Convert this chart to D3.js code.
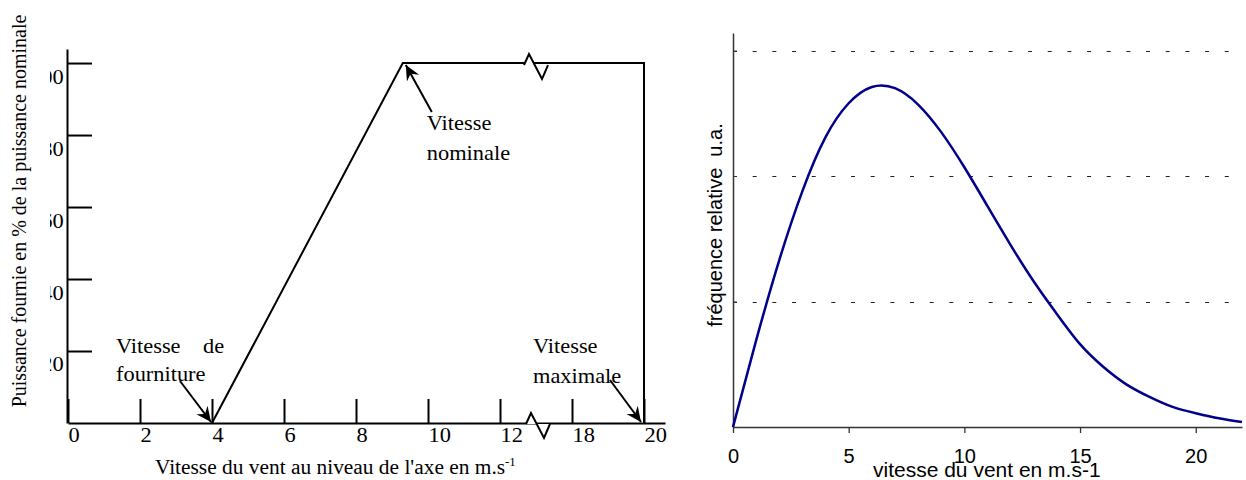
<!DOCTYPE html>
<meta charset="utf-8">
<style>
body { margin: 0; background: #fff; }
.serif text, text.serif { font-family: "Liberation Serif", "Times New Roman", serif; }
.sans text, text.sans { font-family: "Liberation Sans", Arial, sans-serif; }
</style>
<svg width="1246" height="480"></svg>
<script src="https://d3js.org/d3.v7.min.js"></script>
<script>

// ---- left chart : power curve (broken x axis 12 -> 18)
var powerTicksX = [0, 2, 4, 6, 8, 10, 12, 18, 20];
var powerTicksY = [20, 40, 60, 80, 100];
var powerSpeed = [4, 9.3, 20, 20];
var powerPct   = [0, 100, 100, 0];

// ---- right chart : wind speed distribution
var freqSpeed = [0, 1, 2, 3, 4, 5, 6, 7, 8, 9, 10, 11, 12, 13, 14, 15, 16, 17, 18, 19, 20, 21, 22];
var freqValue = [0, 0.69, 1.33, 1.88, 2.31, 2.58, 2.71, 2.70, 2.57, 2.35, 2.07, 1.76, 1.45, 1.16, 0.90, 0.66, 0.48, 0.34, 0.24, 0.16, 0.11, 0.07, 0.04];
var freqTicksX = [0, 5, 10, 15, 20];
var freqGrid = [1, 2, 3];

var svg = d3.select("svg");

svg.append("defs").append("marker")
    .attr("id", "arr")
    .attr("viewBox", "-15 -8 16 16")
    .attr("refX", 0).attr("refY", 0)
    .attr("markerWidth", 16).attr("markerHeight", 16)
    .attr("markerUnits", "userSpaceOnUse")
    .attr("orient", "auto")
  .append("path")
    .attr("d", "M0,0L-15,-7L-10,0L-15,7Z")
    .attr("fill", "#000");

svg.select("defs").append("clipPath").attr("id", "clipL")
  .append("rect").attr("x", 50).attr("y", 0).attr("width", 700).attr("height", 480);

// ================= LEFT =================
var xL = d3.scaleLinear().domain([0, 12, 18, 20, 20.6]).range([68, 500, 572, 644, 665]);
var yL = d3.scaleLinear().domain([0, 103.9]).range([423, 49]);

var left = svg.append("g").attr("class", "serif");

var axX = left.append("g")
    .attr("transform", "translate(0," + yL(0) + ")")
    .call(d3.axisBottom(xL).tickValues(powerTicksX).tickSize(-24).tickSizeOuter(0).tickFormat(d3.format("d")));
axX.select(".domain").attr("stroke", "#000").attr("stroke-width", 2);
axX.selectAll(".tick line").attr("stroke", "#000").attr("stroke-width", 2);
axX.selectAll(".tick text")
    .attr("text-anchor", "start")
    .attr("x", 0).attr("y", 19).attr("dy", 0)
    .attr("transform", "scale(1.12,1)")
    .attr("fill", "#000")
    .style("font-size", "20px").style("font-family", "Liberation Serif, serif");

var axY = left.append("g")
    .attr("clip-path", "url(#clipL)")
  .append("g")
    .attr("transform", "translate(" + (xL(0) - 1) + ",0)")
    .call(d3.axisLeft(yL).tickValues(powerTicksY).tickSize(-25).tickSizeOuter(0).tickFormat(d3.format("d")));
axY.select(".domain").attr("stroke", "#000").attr("stroke-width", 2);
axY.selectAll(".tick line").attr("stroke", "#000").attr("stroke-width", 2);
axY.selectAll(".tick text")
    .attr("x", -3).attr("dy", 0).attr("y", 20)
    .attr("transform", "scale(1.12,1)")
    .attr("fill", "#000")
    .style("font-size", "20px").style("font-family", "Liberation Serif, serif");

// power curve
var pts = powerSpeed.map(function(d, i) { return [xL(d), yL(powerPct[i])]; });
left.append("path")
    .attr("d", d3.line()(pts))
    .attr("fill", "none").attr("stroke", "#000").attr("stroke-width", 2);

// axis break zigzags
function zig(cx, cy) {
  return d3.line()([[cx - 12, cy], [cx - 7, cy - 11], [cx + 6, cy + 14], [cx + 12, cy]]);
}
var bx = xL(15);
left.append("path").attr("d", zig(bx, yL(100) + 2)).attr("fill", "#fff").attr("stroke", "#000").attr("stroke-width", 2);
left.append("path").attr("d", zig(bx + 2, yL(0) + 1)).attr("fill", "#fff").attr("stroke", "#000").attr("stroke-width", 2);

// annotations
function arrow(x1, y1, x2, y2) {
  left.append("line")
      .attr("x1", x1).attr("y1", y1).attr("x2", x2).attr("y2", y2)
      .attr("stroke", "#000").attr("stroke-width", 2)
      .attr("marker-end", "url(#arr)");
}
function label(x, y, t) {
  left.append("text")
      .attr("transform", "translate(" + x + "," + y + ") scale(1.12,1)")
      .text(t).style("font-size", "20px").attr("fill", "#000");
}
var p4 = [xL(4), yL(0)], pN = [xL(9.3), yL(100)], pM = [xL(20), yL(0)];
label(p4[0] - 96, p4[1] - 70, "Vitesse");
label(p4[0] - 9, p4[1] - 70, "de");
label(p4[0] - 96, p4[1] - 42, "fourniture");
arrow(p4[0] - 32, p4[1] - 42, p4[0] - 1, p4[1] - 1);

label(pN[0] + 24, pN[1] + 67, "Vitesse");
label(pN[0] + 24, pN[1] + 97, "nominale");
arrow(pN[0] + 29, pN[1] + 49, pN[0] + 3, pN[1] + 2);

label(pM[0] - 111, pM[1] - 70, "Vitesse");
label(pM[0] - 111, pM[1] - 40, "maximale");
arrow(pM[0] - 34, pM[1] - 43, pM[0] - 3, pM[1] - 1);

// axis titles
var tx = left.append("text")
    .attr("transform", "translate(155,474) scale(1.07,1)")
    .style("font-size", "20px").attr("fill", "#000");
tx.append("tspan").text("Vitesse du vent au niveau de l'axe en m.s");
tx.append("tspan").attr("dy", -8).style("font-size", "12px").text("-1");

left.append("text")
    .attr("transform", "translate(26,211) rotate(-90)")
    .attr("text-anchor", "middle")
    .style("font-size", "20px").attr("fill", "#000")
    .text("Puissance fournie en % de la puissance nominale");

// ================= RIGHT =================
var xR = d3.scaleLinear().domain([0, 22]).range([733, 1242]);
var yR = d3.scaleLinear().domain([0, 3.14]).range([427, 33]);

var right = svg.append("g").attr("class", "sans");

right.selectAll("line.grid")
    .data(freqGrid)
    .enter().append("line")
    .attr("class", "grid")
    .attr("x1", xR(0)).attr("x2", xR(21.5))
    .attr("y1", function(d) { return Math.round(yR(d)) + 0.5; })
    .attr("y2", function(d) { return Math.round(yR(d)) + 0.5; })
    .attr("stroke", "#222").attr("stroke-width", 1)
    .attr("stroke-dasharray", "4,15.67");

var axXR = right.append("g")
    .attr("transform", "translate(0," + yR(0) + ")")
    .call(d3.axisBottom(xR).tickValues(freqTicksX).tickSize(6).tickSizeOuter(0).tickPadding(16));
axXR.select(".domain").attr("stroke", "#333").attr("stroke-width", 1.5);
axXR.selectAll(".tick line").attr("stroke", "#333").attr("stroke-width", 1.3);
axXR.selectAll(".tick text").attr("fill", "#000")
    .style("font-size", "20px").style("font-family", "Liberation Sans, Arial, sans-serif");

var axYR = right.append("g")
    .attr("transform", "translate(" + xR(0) + ",0)")
    .call(d3.axisLeft(yR).tickValues(freqGrid).tickSize(-4).tickSizeOuter(0).tickFormat(""));
axYR.select(".domain").attr("stroke", "#333").attr("stroke-width", 1.5);
axYR.selectAll(".tick line").attr("stroke", "#333").attr("stroke-width", 1);

right.append("path")
    .datum(freqSpeed.map(function(d, i) { return [d, freqValue[i]]; }))
    .attr("d", d3.line().curve(d3.curveNatural)
        .x(function(d) { return xR(d[0]); })
        .y(function(d) { return yR(d[1]); }))
    .attr("fill", "none").attr("stroke", "#00008b").attr("stroke-width", 2.5);

right.append("text")
    .attr("x", 873).attr("y", 477)
    .style("font-size", "21px").attr("fill", "#000")
    .text("vitesse du vent en m.s-1");

right.append("text")
    .attr("transform", "translate(722,225) rotate(-90)")
    .attr("text-anchor", "middle")
    .style("font-size", "20px").attr("fill", "#000")
    .attr("xml:space", "preserve")
    .style("white-space", "pre")
    .text("fréquence relative  u.a.");

</script>
